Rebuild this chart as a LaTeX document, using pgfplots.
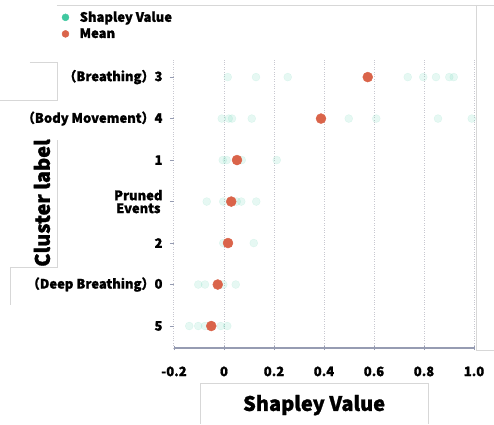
\documentclass[border=0pt]{standalone}
\usepackage{pgfplots}
\pgfplotsset{compat=1.18}
\usepackage{fontspec}
\setmainfont{Noto Sans CJK JP}[BoldFeatures={FakeBold=1.2}]
\definecolor{teal1}{RGB}{64,200,160}
\definecolor{meanc}{RGB}{218,100,74}
\definecolor{axc}{RGB}{150,156,178}
\definecolor{gridc}{RGB}{200,200,208}
\definecolor{artc}{RGB}{215,215,215}
\begin{document}
\begin{tikzpicture}[x=1pt,y=1pt]
\useasboundingbox (-174,-76) rectangle (320,348);
% faint frame artefacts of the original screenshot
\draw[artc,line width=0.8pt] (-117,343) -- (320,343);
\draw[artc,line width=0.8pt] (302,343) -- (302,-2) -- (320,-2);
\draw[artc,line width=0.8pt] (-144,286) -- (-117,286) -- (-117,248) -- (-174,248);
\draw[artc,line width=0.8pt] (-117,208) -- (-117,81) -- (-164,81) -- (-164,43);
\draw[artc,line width=0.8pt] (26,-76) -- (26,-35) -- (254,-35) -- (254,-76);
\begin{axis}[
  at={(0,0)}, anchor=south west,
  scale only axis, width=300pt, height=290pt,
  xmin=-0.2, xmax=1.0, ymin=-0.53, ymax=6.46,
  axis x line*=bottom, axis y line*=left,
  x axis line style={-, color=axc, line width=1.6pt},
  y axis line style={draw=none},
  xtick={-0.2,0,0.2,0.4,0.6,0.8,1.0},
  xticklabels={-0.2,0,0.2,0.4,0.6,0.8,1.0},
  ytick={0,1,2,3,4,5,6},
  yticklabels={5,（Deep Breathing）0,2,{\shortstack{Pruned\\Events}},1,（Body Movement）4,（Breathing）3},
  xtick align=center, ytick align=outside,
  major tick length=4pt,
  tick style={color=axc, line width=0.8pt},
  xmajorgrids, grid style={gridc, dotted, line width=1pt},
  ticklabel style={font=\fontsize{13}{14}\selectfont\bfseries},
  yticklabel style={xshift=-4pt},
  xticklabel style={yshift=-13pt},
  xlabel={Shapley Value}, ylabel={Cluster label},
  xlabel style={at={(axis description cs:0.467,-0.197)}, anchor=center, font=\fontsize{20}{22}\selectfont\bfseries},
  ylabel style={at={(axis description cs:-0.44,0.5)}, anchor=center, font=\fontsize{20}{22}\selectfont\bfseries},
  legend style={at={(axis description cs:-0.378,1.17)}, anchor=north west, draw=none, fill=none,
    font=\fontsize{13}{15}\selectfont\bfseries, row sep=2pt, inner sep=1pt,
    nodes={inner sep=1.5pt}},
  legend cell align=left,
  clip=false,
]
\addlegendimage{legend image code/.code={\fill[teal1] (3.75pt,0pt) circle (3.5pt);}}
\addlegendentry{\hspace{9pt}Shapley Value}
\addlegendimage{legend image code/.code={\fill[meanc] (3.75pt,0pt) circle (3.5pt);}}
\addlegendentry{\hspace{9pt}Mean}
\addplot[forget plot, only marks, mark=*, mark size=4pt, color=teal1, opacity=0.13, mark options={draw=teal1, fill=teal1, opacity=0.13}] coordinates {
(0.015,6) (0.128,6) (0.255,6) (0.735,6) (0.797,6) (0.848,6) (0.901,6) (0.919,6)
(-0.009,5) (0.019,5) (0.032,5) (0.111,5) (0.499,5) (0.609,5) (0.856,5) (0.991,5)
(-0.005,4) (0.011,4) (0.071,4) (0.211,4)
(-0.069,3) (-0.003,3) (0.051,3) (0.069,3) (0.129,3)
(-0.003,2) (0.119,2)
(-0.103,1) (-0.076,1) (-0.003,1) (0.047,1)
(-0.139,0) (-0.103,0) (-0.076,0) (-0.013,0) (0.013,0)
};
\addplot[forget plot, only marks, mark=*, mark size=5pt, color=meanc, mark options={draw=meanc, fill=meanc}] coordinates {
(0.575,6) (0.388,5) (0.052,4) (0.029,3) (0.016,2) (-0.025,1) (-0.051,0)
};
\end{axis}
\end{tikzpicture}
\end{document}
